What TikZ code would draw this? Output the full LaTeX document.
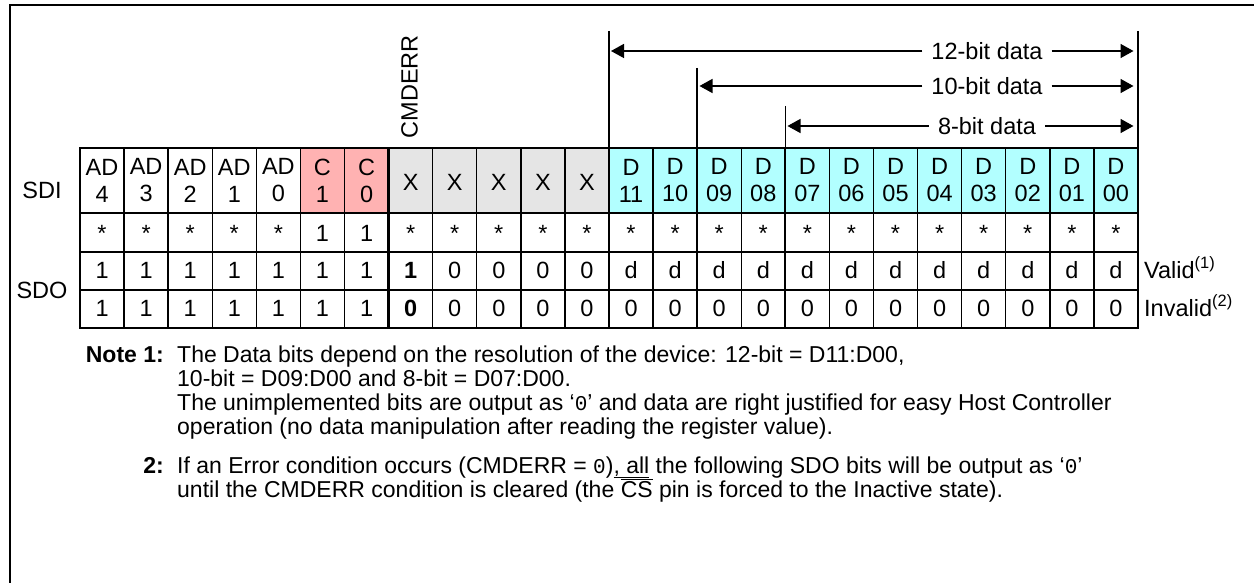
\documentclass[tikz,border=0pt]{standalone}
\usepackage{fontspec}
\setmainfont{Liberation Sans}
\newfontfamily\zeromono{Liberation Mono}
\usetikzlibrary{arrows.meta}
\definecolor{cpink}{RGB}{255,178,178}
\definecolor{cgray}{RGB}{229,229,229}
\definecolor{ccyan}{RGB}{178,255,255}
\newcommand\cellfont{\fontsize{23.5}{27}\selectfont}
\newcommand\notefont{\fontsize{23}{24}\selectfont}
\newcommand\zr{{\zeromono\fontsize{21}{24}\selectfont 0}}
\begin{document}
\begin{tikzpicture}[x=1pt,y=-1pt,
  cell/.style={font=\cellfont, align=center, inner sep=0pt},
  lab/.style={font=\cellfont, inner sep=0pt},
  blab/.style={font=\cellfont, inner xsep=9pt, inner ysep=0pt},
  notetxt/.style={font=\notefont, inner sep=0pt},
  thin/.style={line width=1.4pt},
  thick/.style={line width=2.2pt},
  arr/.style={line width=1.5pt, -{Triangle[length=13pt,width=14pt]}},
  brk/.style={line width=1.5pt}]
\useasboundingbox (0,0) rectangle (1254,583);
\def\cw{44.0833}
% frame (top and left edges)
\draw[line width=2pt] (9.5,583) -- (9.5,5) -- (1254,5);
% cell fills
\fill[cpink] (80+5*\cw,148) rectangle (80+7*\cw,213);
\fill[cgray] (80+7*\cw,148) rectangle (80+12*\cw,213);
\fill[ccyan] (80+12*\cw,148) rectangle (80+24*\cw,213);
% grid
\foreach \y in {213,290} \draw[thin] (80,\y) -- (1138,\y);
\draw[thick] (80,252) -- (1138,252);
\foreach \i in {1,...,23} \draw[thin] (80+\i*\cw,148) -- (80+\i*\cw,328);
\foreach \i in {7,16} \draw[thick] (80+\i*\cw,148) -- (80+\i*\cw,328);
\draw[thick] (80,148) rectangle (1138,328);
% row 0 (SDI)
\foreach \t [count=\i from 0] in {{AD\\4},{AD\\3},{AD\\2},{AD\\1},{AD\\0},{C\\1},{C\\0}}
  \node[cell] (ra\i) at (80+\i*\cw+0.5*\cw,180.5) {\t};
\foreach \i in {7,...,11}
  \node[cell] (ra\i) at (80+\i*\cw+0.5*\cw,182) {X};
\foreach \t [count=\i from 12] in {11,10,09,08,07,06,05,04,03,02,01,00}
  \node[cell] (ra\i) at (80+\i*\cw+0.5*\cw,180.5) {D\\\t};
% row 1
\foreach \t [count=\i from 0] in {*,*,*,*,*,1,1,*,*,*,*,*,*,*,*,*,*,*,*,*,*,*,*,*}
  \node[cell, anchor=base] (rb\i) at (80+\i*\cw+0.5*\cw,241.5) {\t};
% row 2 (valid)
\foreach \t [count=\i from 0] in {1,1,1,1,1,1,1,{\bfseries 1},0,0,0,0,d,d,d,d,d,d,d,d,d,d,d,d}
  \node[cell, anchor=base] (rc\i) at (80+\i*\cw+0.5*\cw,278) {\t};
% row 3 (invalid)
\foreach \t [count=\i from 0] in {1,1,1,1,1,1,1,{\bfseries 0},0,0,0,0,0,0,0,0,0,0,0,0,0,0,0,0}
  \node[cell, anchor=base] (rd\i) at (80+\i*\cw+0.5*\cw,316) {\t};
% side labels
\node[lab] (sdi) at (42,190) {SDI};
\node[lab] (sdo) at (42,290) {SDO};
\node[lab, anchor=base west] (valid) at (1144,278) {Valid\textsuperscript{(1)}};
\node[lab, anchor=base west] (invalid) at (1144,316) {Invalid\textsuperscript{(2)}};
\node[lab, rotate=90, anchor=west] (cmderr) at (409.5,138.5) {CMDERR};
% bracket lines
\draw[brk] (80+12*\cw,31) -- (80+12*\cw,148);
\draw[brk] (80+14*\cw,68) -- (80+14*\cw,148);
\draw[brk] (80+16*\cw,106) -- (80+16*\cw,148);
\draw[brk] (1138,31) -- (1138,148);
% width arrows
\node[blab] (t12) at (987,51) {12-bit data};
\node[blab] (t10) at (987,86) {10-bit data};
\node[blab] (t8) at (987,126) {8-bit data};
\coordinate (l12) at (611,51);  \coordinate (r12) at (1133.5,51);
\coordinate (l10) at (699.5,86); \coordinate (r10) at (1133.5,86);
\coordinate (l8) at (787.5,126); \coordinate (r8) at (1133.5,126);
\draw[arr] (t12.west) -- (l12); \draw[arr] (t12.east) -- (r12);
\draw[arr] (t10.west) -- (l10); \draw[arr] (t10.east) -- (r10);
\draw[arr] (t8.west) -- (l8);   \draw[arr] (t8.east) -- (r8);
% notes
\node[notetxt, anchor=base east] (n1) at (164,362) {\bfseries Note 1:};
\node[notetxt, anchor=base west] (n1a) at (177,362) {The Data bits depend on the resolution of the device: 12-bit = D11:D00,};
\node[notetxt, anchor=base west] (n1b) at (177,386) {10-bit = D09:D00 and 8-bit = D07:D00.};
\node[notetxt, anchor=base west] (n1c) at (177,410) {The unimplemented bits are output as ‘\zr’ and data are right justified for easy Host Controller};
\node[notetxt, anchor=base west] (n1d) at (177,434) {operation (no data manipulation after reading the register value).};
\node[notetxt, anchor=base east] (n2) at (164,473) {\bfseries 2:};
\node[notetxt, anchor=base west] (n2a) at (177,473) {If an Error condition occurs (CMDERR = \zr)\underline{, all} the following SDO bits will be output as ‘\zr’};
\node[notetxt, anchor=base west] (n2b) at (177,497) {until the CMDERR condition is cleared (the $\overline{\mbox{CS}}$ pin is forced to the Inactive state).};
\end{tikzpicture}
\end{document}
